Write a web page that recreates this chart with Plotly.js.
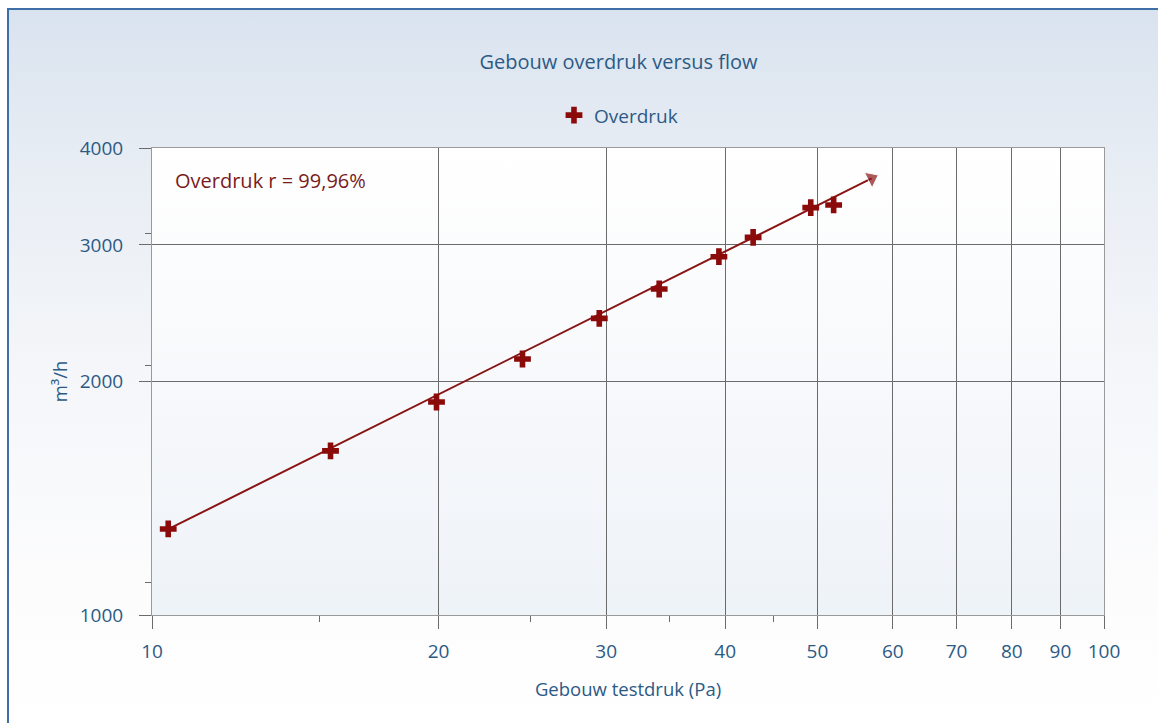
<!DOCTYPE html>
<html>
<head>
<meta charset="utf-8">
<script src="https://cdn.plot.ly/plotly-3.0.1.min.js"></script>
<style>
  html, body { margin:0; padding:0; background:#ffffff; }
  #wrap { position:relative; width:1158px; height:723px; overflow:hidden; background:#ffffff; }
  #frame { position:absolute; left:7px; top:8px; right:0; bottom:0;
           border-left:2px solid #3f6fa8; border-top:2px solid #3f6fa8;
           background:linear-gradient(to bottom, #d9e3ef 0%, #e8edf4 22%, #f4f6f9 50%, #fcfcfd 80%, #ffffff 100%); }
  #plotbg { position:absolute; left:152px; top:148px; width:952px; height:467px;
            background:linear-gradient(to bottom, #ffffff 0%, #f9fafc 40%, #eef3f8 100%); }
  #chart { position:absolute; left:0; top:0; width:1158px; height:723px; }
</style>
</head>
<body>
<div id="wrap">
  <div id="frame"></div>
  <div id="plotbg"></div>
  <div id="chart"></div>
</div>
<script>
// Measured points: building test pressure (Pa) vs flow (m3/h)
const pressure = [10.4, 15.4, 19.9, 24.5, 29.5, 34.1, 39.4, 42.8, 49.2, 52.0];
const flow     = [1291, 1628, 1882, 2138, 2412, 2632, 2897, 3068, 3351, 3378];

// Fitted power-law line (start / end)
const fitPressure = [10.4, 57.0];
const fitFlow     = [1290, 3655];

// Axis ticks
const xTicks = [10, 20, 30, 40, 50, 60, 70, 80, 90, 100];
const xMinor = [15, 25, 35, 45];
const yTicks = [1000, 2000, 3000, 4000];
const yMinor = [1100, 2100, 3100];

const seriesName = 'Overdruk';
const annotationText = 'Overdruk r = 99,96%';

const red = '#8b0a0a';
const lineRed = '#8a1414';
const textBlue = '#2c5a85';
const font = '"Open Sans", "Noto Sans", sans-serif';

const traces = [
  {
    x: fitPressure, y: fitFlow, type: 'scatter', mode: 'lines+markers',
    line: { color: lineRed, width: 2 },
    marker: { symbol: ['circle', 'triangle-up'], size: [9, 15], color: lineRed, angleref: 'previous' },
    showlegend: false, hoverinfo: 'skip', cliponaxis: false
  },
  {
    x: pressure, y: flow, type: 'scatter', mode: 'markers', name: seriesName,
    marker: { symbol: 'cross', size: 14, color: red, line: { width: 0 } },
    cliponaxis: false
  }
];

const layout = {
  width: 1158, height: 723,
  margin: { l: 152, r: 54, t: 148, b: 108 },
  paper_bgcolor: 'rgba(0,0,0,0)',
  plot_bgcolor: 'rgba(0,0,0,0)',
  font: { family: font, color: textBlue, size: 19 },
  title: {
    text: 'Gebouw overdruk versus flow',
    font: { family: font, size: 20, color: textBlue },
    xref: 'paper', x: 0.49, xanchor: 'center',
    yref: 'container', y: 1 - 62/723, yanchor: 'middle'
  },
  showlegend: true,
  legend: {
    orientation: 'h', xref: 'paper', x: 0.49, xanchor: 'center',
    yref: 'paper', y: 1.07, yanchor: 'middle',
    bgcolor: 'rgba(0,0,0,0)', font: { family: font, size: 19, color: textBlue },
    itemwidth: 30
  },
  xaxis: {
    type: 'log', range: [1, 2],
    tickmode: 'array', tickvals: xTicks, ticktext: xTicks.map(String),
    ticks: 'outside', ticklen: 13, tickcolor: '#6b6b6b', tickwidth: 1,
    ticklabelstandoff: 6,
    showgrid: true, gridcolor: '#6b6b6b', gridwidth: 1,
    showline: true, linecolor: '#9a9a9a', linewidth: 1, mirror: true,
    zeroline: false,
    tickfont: { family: font, size: 19, color: textBlue },
    minor: { tickvals: xMinor, ticks: 'outside', ticklen: 6, tickcolor: '#6b6b6b', showgrid: false },
    title: { text: 'Gebouw testdruk (Pa)', font: { family: font, size: 18.5, color: textBlue }, standoff: 20 }
  },
  yaxis: {
    type: 'log', range: [3, Math.log10(4000)],
    tickmode: 'array', tickvals: yTicks, ticktext: yTicks.map(String),
    ticks: 'outside', ticklen: 12, tickcolor: '#6b6b6b', tickwidth: 1,
    ticklabelstandoff: 12,
    showgrid: true, gridcolor: '#6b6b6b', gridwidth: 1,
    showline: true, linecolor: '#9a9a9a', linewidth: 1, mirror: true,
    zeroline: false,
    tickfont: { family: font, size: 19, color: textBlue },
    minor: { tickvals: yMinor, ticks: 'outside', ticklen: 6, tickcolor: '#6b6b6b', showgrid: false },
    title: { text: 'm³/h', font: { family: font, size: 18.5, color: textBlue }, standoff: 7 }
  },
  annotations: [{
    text: annotationText, xref: 'paper', yref: 'paper',
    x: 0.022, y: 0.93, xanchor: 'left', yanchor: 'middle', showarrow: false,
    font: { family: font, size: 20, color: '#7a1c1c' }
  }]
};

Plotly.newPlot('chart', traces, layout, { displayModeBar: false, staticPlot: true });
</script>
</body>
</html>
